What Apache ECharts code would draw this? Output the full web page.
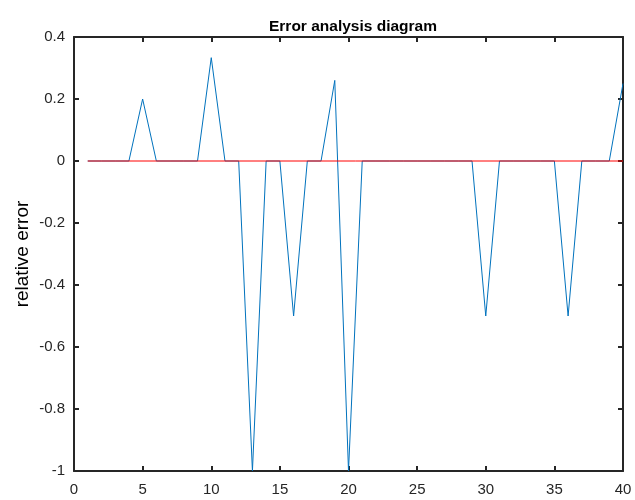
<!DOCTYPE html>
<html>
<head>
<meta charset="utf-8">
<script src="https://cdn.jsdelivr.net/npm/echarts@6/dist/echarts.min.js"></script>
<style>
  html, body { margin: 0; padding: 0; background: #fff; }
  #chart { width: 635px; height: 500px; }
</style>
</head>
<body>
<div id="chart"></div>
<script>
// sample index and relative error
var sampleIdx = [1, 2, 3, 4, 5, 6, 7, 8, 9, 10, 11, 12, 13, 14, 15, 16, 17, 18, 19, 20,
  21, 22, 23, 24, 25, 26, 27, 28, 29, 30, 31, 32, 33, 34, 35, 36, 37, 38, 39, 40]
var relError = [0, 0, 0, 0, 0.2, 0, 0, 0, 0, 0.3333, 0, 0, -1, 0, 0, -0.5, 0, 0, 0.26, -1,
  0, 0, 0, 0, 0, 0, 0, 0, 0, -0.5, 0, 0, 0, 0, 0, -0.5, 0, 0, 0, 0.25]
var zeroLineX = [1, 40]
var zeroLineY = [0, 0]
var xTicks = [0, 5, 10, 15, 20, 25, 30, 35, 40]
var yTicks = [-1, -0.8, -0.6, -0.4, -0.2, 0, 0.2, 0.4]

var chart = echarts.init(document.getElementById('chart'))

var axisColor = '#262626'
var font = 'Liberation Sans, Arial, sans-serif'

function boxAxis(extra) {
  return Object.assign({
    type: 'value',
    axisLine: { show: true, onZero: false, lineStyle: { color: axisColor, width: 2 } },
    axisTick: { show: true, inside: true, length: 5, lineStyle: { color: axisColor, width: 2 } },
    splitLine: { show: false }
  }, extra)
}

var option = {
  backgroundColor: '#ffffff',
  animation: false,
  title: {
    text: 'Error analysis diagram',
    left: 348,
    textAlign: 'center',
    top: 14,
    textStyle: { fontFamily: font, fontSize: 15.5, fontWeight: 'bold', color: '#000' }
  },
  grid: { left: 74, right: 12, top: 37, bottom: 29, outerBoundsMode: 'none', containLabel: false },
  xAxis: [
    boxAxis({
      position: 'bottom',
      min: xTicks[0],
      max: xTicks[xTicks.length - 1],
      interval: 5,
      axisLabel: { color: axisColor, fontFamily: font, fontSize: 15, margin: 11 }
    }),
    boxAxis({
      position: 'top',
      min: xTicks[0],
      max: xTicks[xTicks.length - 1],
      interval: 5,
      axisLabel: { show: false }
    })
  ],
  yAxis: [
    boxAxis({
      position: 'left',
      min: yTicks[0],
      max: yTicks[yTicks.length - 1],
      interval: 0.2,
      name: 'relative error',
      nameLocation: 'middle',
      nameGap: 42,
      nameMoveOverlap: false,
      nameTextStyle: { fontFamily: font, fontSize: 19, color: '#000' },
      axisLabel: {
        color: axisColor, fontFamily: font, fontSize: 15, margin: 9,
        formatter: function (v) { return String(Math.round(v * 10) / 10) }
      }
    }),
    boxAxis({
      position: 'right',
      min: yTicks[0],
      max: yTicks[yTicks.length - 1],
      interval: 0.2,
      axisLabel: { show: false }
    })
  ],
  series: [
    {
      name: 'error',
      type: 'line',
      data: sampleIdx.map(function (x, i) { return [x, relError[i]] }),
      showSymbol: false,
      lineStyle: { color: '#0072BD', width: 1 },
      itemStyle: { color: '#0072BD' }
    },
    {
      name: 'zero',
      type: 'line',
      data: zeroLineX.map(function (x, i) { return [x, zeroLineY[i]] }),
      showSymbol: false,
      lineStyle: { color: '#FF0000', width: 1 },
      itemStyle: { color: '#FF0000' }
    }
  ]
}

chart.setOption(option, true)
</script>
</body>
</html>
